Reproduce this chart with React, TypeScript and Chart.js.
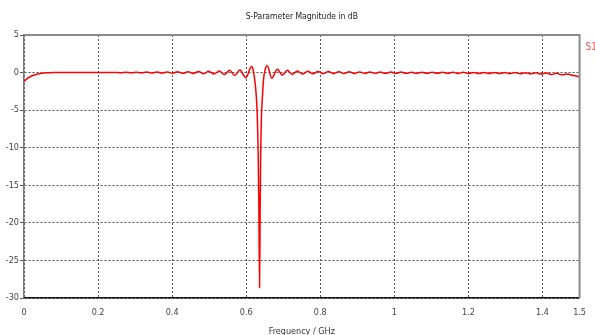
import React, { useEffect, useRef } from "react";
import { Chart, registerables } from "chart.js";

Chart.register(...registerables);

const titleText = "S-Parameter Magnitude in dB";
const xAxisTitle = "Frequency / GHz";
const legendLabel = "S1,1";

const xTicks = [0, 0.2, 0.4, 0.6, 0.8, 1, 1.2, 1.4, 1.5];
const yTicks = [-30, -25, -20, -15, -10, -5, 0, 5];

// Frequency in GHz
const freq = [
  0, 0.005, 0.01, 0.02, 0.03, 0.045, 0.06, 0.08, 0.12, 0.16, 0.2, 0.23,
  0.247, 0.261, 0.275, 0.289, 0.303, 0.317, 0.331, 0.345, 0.359, 0.373,
  0.387, 0.401, 0.415, 0.429, 0.443, 0.457, 0.471, 0.485, 0.499, 0.513,
  0.527, 0.541, 0.555, 0.569, 0.583, 0.599, 0.614,
  0.619, 0.623, 0.627, 0.63, 0.632, 0.634, 0.636, 0.6375, 0.639, 0.641,
  0.644, 0.647, 0.651, 0.657, 0.669, 0.684, 0.697, 0.711, 0.724, 0.738,
  0.752, 0.766, 0.78, 0.794, 0.808, 0.822, 0.836, 0.85, 0.864, 0.878,
  0.892, 0.906, 0.92, 0.934, 0.948, 0.962, 0.976, 0.99, 1.004, 1.018,
  1.032, 1.046, 1.06, 1.074, 1.088, 1.102, 1.116, 1.13, 1.144, 1.158,
  1.172, 1.186, 1.2, 1.214, 1.228, 1.242, 1.256, 1.27, 1.284, 1.298,
  1.312, 1.326, 1.34, 1.354, 1.368, 1.382, 1.396, 1.41, 1.424, 1.438,
  1.452, 1.466, 1.48, 1.5,
];

// S1,1 magnitude in dB
const s11 = [
  -1.2, -0.95, -0.75, -0.45, -0.28, -0.12, -0.04, 0.0, 0.02, 0.02, 0.02, 0.01,
  0.02, -0.03, 0.04, -0.04, 0.05, -0.05, 0.06, -0.06, 0.07, -0.07,
  0.08, -0.09, 0.1, -0.1, 0.11, -0.12, 0.14, -0.15, 0.17, -0.19,
  0.22, -0.26, 0.3, -0.38, 0.35, -0.7, 0.8,
  0.3, -1, -3, -6, -10, -17, -28.6, -19, -11, -6,
  -3, -0.8, 0.4, 0.9, -0.75, 0.45, -0.35, 0.3, -0.25, 0.22,
  -0.2, 0.18, -0.17, 0.15, -0.15, 0.13, -0.14, 0.12, -0.13, 0.1,
  -0.12, 0.09, -0.11, 0.08, -0.1, 0.07, -0.1, 0.06, -0.1, 0.06,
  -0.1, 0.05, -0.1, 0.05, -0.1, 0.04, -0.1, 0.04, -0.1, 0.03,
  -0.11, 0.03, -0.11, 0.02, -0.12, 0.02, -0.12, 0.01, -0.13, 0.0,
  -0.14, 0.0, -0.15, -0.02, -0.17, -0.04, -0.2, -0.06, -0.25, -0.1,
  -0.3, -0.2, -0.35, -0.55,
];

const FONT = "'DejaVu Sans Condensed', 'Liberation Sans', sans-serif";

const frameTitleLegend = {
  id: "frameTitleLegend",
  afterDraw(chart: any) {
    const { ctx, chartArea } = chart;
    ctx.save();
    ctx.setLineDash([]);
    ctx.strokeStyle = "#8a8a8a";
    ctx.lineWidth = 2;
    ctx.beginPath();
    ctx.moveTo(chartArea.left, chartArea.top);
    ctx.lineTo(chartArea.right, chartArea.top);
    ctx.lineTo(chartArea.right, chartArea.bottom);
    ctx.stroke();
    // title centred over plot area
    ctx.fillStyle = "#222";
    ctx.font = "8.5px " + FONT;
    ctx.textBaseline = "middle";
    ctx.textAlign = "center";
    ctx.fillText(titleText, (chartArea.left + chartArea.right) / 2, 17);
    // legend entry at right edge
    ctx.fillStyle = "#ff5050";
    ctx.font = "10px " + FONT;
    ctx.textAlign = "left";
    ctx.fillText(legendLabel, chartArea.right + 6, 47);
    ctx.restore();
  },
};

export default function App() {
  const ref = useRef<HTMLCanvasElement>(null);
  useEffect(() => {
    if (!ref.current) return;
    const chart = new Chart(ref.current, {
      type: "line",
      data: {
        datasets: [
          {
            label: legendLabel,
            data: freq.map((f, i) => ({ x: f, y: s11[i] })),
            borderColor: "#ff0000",
            borderWidth: 1.5,
            pointRadius: 0,
            fill: false,
            cubicInterpolationMode: "monotone",
          },
        ],
      },
      options: {
        animation: false,
        responsive: false,
        maintainAspectRatio: false,
        layout: { padding: { left: 0, right: 13, top: 35, bottom: 0 } },
        plugins: {
          legend: { display: false },
          tooltip: { enabled: false },
          title: { display: false },
        },
        scales: {
          x: {
            type: "linear",
            min: 0,
            max: 1.5,
            afterBuildTicks: (scale: any) => {
              scale.ticks = xTicks.map((v) => ({ value: v }));
            },
            afterFit: (scale: any) => {
              scale.height = 37;
            },
            ticks: {
              color: "#444",
              font: { family: FONT, size: 9 },
              padding: 9,
              maxRotation: 0,
              autoSkip: false,
              callback: (v: any) => String(v),
            },
            grid: {
              color: "#555",
              lineWidth: 1,
              drawTicks: false,
            },
            border: { display: true, color: "#111", width: 1.5, dash: [2, 2] },
            title: {
              display: true,
              text: xAxisTitle,
              color: "#333",
              font: { family: FONT, size: 9 },
              padding: { top: 0, bottom: -2 },
            },
          },
          y: {
            type: "linear",
            min: -30,
            max: 5,
            afterBuildTicks: (scale: any) => {
              scale.ticks = yTicks.map((v) => ({ value: v }));
            },
            afterFit: (scale: any) => {
              scale.width = 24;
            },
            ticks: {
              color: "#444",
              font: { family: FONT, size: 9 },
              padding: 1,
              autoSkip: false,
              callback: (v: any) => String(v),
            },
            grid: {
              color: "#555",
              lineWidth: 1,
              tickLength: 4,
            },
            border: { display: true, color: "#777", width: 1.5, dash: [2, 2] },
          },
        },
      },
      plugins: [frameTitleLegend],
    } as any);
    return () => chart.destroy();
  }, []);

  return (
    <div style={{ position: "absolute", left: 0, top: 0, width: 595, height: 335, background: "#fff" }}>
      <canvas ref={ref} width={595} height={335} style={{ width: 595, height: 335, display: "block" }} />
    </div>
  );
}
